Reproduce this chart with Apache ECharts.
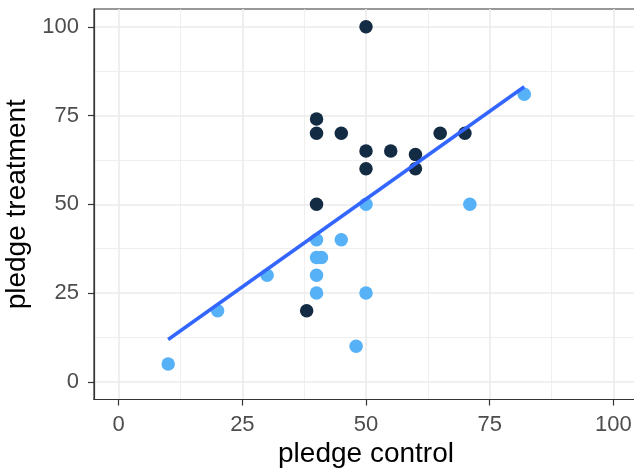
<!DOCTYPE html>
<html><head><meta charset="utf-8">
<script src="https://cdn.jsdelivr.net/npm/echarts@6/dist/echarts.min.js"></script>
<style>html,body{margin:0;padding:0;background:#fff;overflow:hidden}#c{width:634px;height:473px}</style>
</head><body><div id="c"></div>
<script>
// Data
const darkX = [50, 40, 40, 45, 50, 55, 60, 50, 60, 65, 70, 40, 38];
const darkY = [100, 74, 70, 70, 65, 65, 64, 60, 60, 70, 70, 50, 20];
const lightX = [10, 20, 30, 40, 45, 40, 41, 40, 40, 50, 48, 50, 71, 82];
const lightY = [5, 20, 30, 40, 40, 35, 35, 30, 25, 25, 10, 50, 50, 81];
const fitX = [10, 82];
const fitY = [11.9, 83.1];
const majorTicks = [0, 25, 50, 75, 100];
const minorTicks = [12.5, 37.5, 62.5, 87.5];
const xTitle = 'pledge control';
const yTitle = 'pledge treatment';

const pairs = (xs, ys) => xs.map((x, i) => [x, ys[i]]);
const gridLines = [];
minorTicks.forEach(v => {
  gridLines.push({xAxis: v, lineStyle: {color: '#EBEBEB', width: 0.8, type: 'solid'}});
  gridLines.push({yAxis: v, lineStyle: {color: '#EBEBEB', width: 0.8, type: 'solid'}});
});
majorTicks.forEach(v => {
  gridLines.push({xAxis: v, lineStyle: {color: '#EBEBEB', width: 1.6, type: 'solid'}});
  gridLines.push({yAxis: v, lineStyle: {color: '#EBEBEB', width: 1.6, type: 'solid'}});
});

const font = '"Liberation Sans", Arial, sans-serif';
const chart = echarts.init(document.getElementById('c'), null, {renderer: 'canvas'});
chart.setOption({
  animation: false,
  backgroundColor: '#fff',
  grid: {left: 94, top: 9, width: 544, height: 390.5, containLabel: false, outerBoundsMode: 'none',
         show: true, borderColor: '#333333', borderWidth: 1.2, backgroundColor: 'transparent', z: 0},
  xAxis: {
    type: 'value', min: -5, max: 105,
    name: xTitle, nameLocation: 'middle', nameGap: 39,
    nameTextStyle: {fontFamily: font, fontSize: 28, color: '#000'},
    axisLine: {show: true, onZero: false, lineStyle: {color: '#333333', width: 1.2}},
    axisTick: {show: true, customValues: majorTicks, length: 6, lineStyle: {color: '#333333', width: 1.2}},
    axisLabel: {customValues: majorTicks, margin: 14, fontFamily: font, fontSize: 22, color: '#4D4D4D'},
    splitLine: {show: false}
  },
  yAxis: {
    type: 'value', min: -5, max: 105,
    name: yTitle, nameLocation: 'middle', nameGap: 57,
    nameTextStyle: {fontFamily: font, fontSize: 28, color: '#000'},
    axisLine: {show: true, onZero: false, lineStyle: {color: '#333333', width: 1.2}},
    axisTick: {show: true, customValues: majorTicks, length: 6, lineStyle: {color: '#333333', width: 1.2}},
    axisLabel: {customValues: majorTicks, margin: 15, fontFamily: font, fontSize: 22, color: '#4D4D4D'},
    splitLine: {show: false}
  },
  series: [
    {type: 'scatter', data: [], z: 0, silent: true,
     markLine: {z: 0, silent: true, symbol: 'none', label: {show: false}, animation: false, data: gridLines}},
    {type: 'scatter', data: pairs(darkX, darkY), symbolSize: 13.5, z: 3,
     itemStyle: {color: '#132B43', opacity: 1}},
    {type: 'scatter', data: pairs(lightX, lightY), symbolSize: 13.5, z: 3,
     itemStyle: {color: '#56B1F7', opacity: 1}},
    {type: 'line', data: pairs(fitX, fitY), symbol: 'none', z: 4,
     lineStyle: {color: '#3366FF', width: 3.5}}
  ]
});
</script></body></html>
